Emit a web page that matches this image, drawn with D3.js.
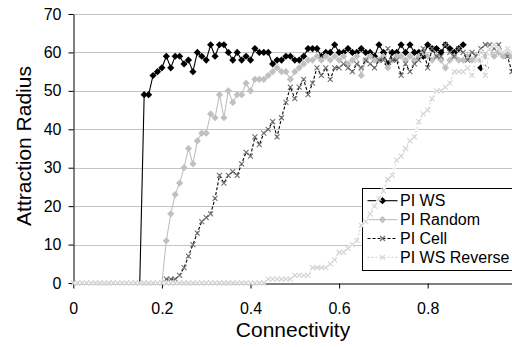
<!DOCTYPE html>
<html>
<head>
<meta charset="utf-8">
<script src="https://cdn.jsdelivr.net/npm/d3@7"></script>
<style>
  body { margin: 0; background: #fff; }
  text { font-family: "Liberation Sans", Arial, sans-serif; }
</style>
</head>
<body>
<svg id="chart" width="512" height="347"></svg>
<script>
// connectivity values (x categories)
const connectivity = [
  0.00, 0.01, 0.02, 0.03, 0.04, 0.05, 0.06, 0.07, 0.08, 0.09,
  0.10, 0.11, 0.12, 0.13, 0.14, 0.15, 0.16, 0.17, 0.18, 0.19,
  0.20, 0.21, 0.22, 0.23, 0.24, 0.25, 0.26, 0.27, 0.28, 0.29,
  0.30, 0.31, 0.32, 0.33, 0.34, 0.35, 0.36, 0.37, 0.38, 0.39,
  0.40, 0.41, 0.42, 0.43, 0.44, 0.45, 0.46, 0.47, 0.48, 0.49,
  0.50, 0.51, 0.52, 0.53, 0.54, 0.55, 0.56, 0.57, 0.58, 0.59,
  0.60, 0.61, 0.62, 0.63, 0.64, 0.65, 0.66, 0.67, 0.68, 0.69,
  0.70, 0.71, 0.72, 0.73, 0.74, 0.75, 0.76, 0.77, 0.78, 0.79,
  0.80, 0.81, 0.82, 0.83, 0.84, 0.85, 0.86, 0.87, 0.88, 0.89,
  0.90, 0.91, 0.92, 0.93, 0.94, 0.95, 0.96, 0.97, 0.98, 0.99,
  1.00
];

const _ = null;

const piWs = [
  _, _, _, _, _, _, _, _, _, _,
  _, _, _, _, _, 0, 49, 49, 54, 55,
  56, 59, 56, 59, 59, 57, 58, 55, 60, 59,
  58, 62, 59, 62, 62, 60, 58, 60, 58, 59,
  58, 61, 60, 60, 60, 57, 58, 58, 59, 59,
  58, 58, 59, 61, 61, 61, 59, 60, 60, 62,
  60, 60, 61, 60, 60, 61, 60, 60, 59, 62,
  60, 57, 60, 60, 62, 60, 62, 60, 60, 59,
  62, 61, 61, 60, 62, 61, 60, 61, 62, _,
  _, _, 56, 56, _, _, _, _, _, _,
  _
];

const piRandom = [
  _, _, _, _, _, _, _, _, _, _,
  _, _, _, _, _, _, _, _, _, _,
  0, 11, 18, 23, 26, 30, 35, 31, 37, 39,
  39, 44, 43, 49, 43, 50, 47, 49, 49, 52,
  50, 53, 53, 53, 54, 55, 56, 55, 55, 53,
  55, 56, 57, 58, 58, 59, 58, 59, 58, 59,
  58, 59, 57, 58, 59, 54, 58, 59, 58, 58,
  59, 56, 58, 59, 59, 58, 59, 58, 59, 60,
  59, 58, 59, 58, 56, 58, 59, 58, 58, 59,
  58, 59, 58, 59, 60, 59, 60, 59, 60, 59,
  60
];

const piCell = [
  _, _, _, _, _, _, _, _, _, _,
  _, _, _, _, _, _, _, _, _, _,
  0, 1, 1, 1, 2, 4, 7, 10, 13, 16,
  17, 18, 22, 28, 26, 28, 29, 28, 31, 34,
  33, 38, 36, 39, 40, 42, 38, 43, 47, 51,
  48, 51, 53, 49, 52, 56, 54, 56, 53, 56,
  56, 57, 56, 55, 57, 56, 58, 57, 56, 58,
  58, 61, 58, 58, 54, 57, 55, 57, 58, 61,
  56, 61, 59, 59, 62, 60, 59, 61, 60, 58,
  60, 59, 61, 62, 62, 61, 62, 60, 59, 55,
  59
];

const piWsReverse = [
  0, 0, 0, 0, 0, 0, 0, 0, 0, 0,
  0, 0, 0, 0, 0, 0, 0, 0, 0, 0,
  0, 0, 0, 0, 0, 0, 0, 0, 0, 0,
  0, 0, 0, 0, 0, 0, 0, 0, 0, 0,
  0, 0, 0, 0, 1, 1, 1, 1, 1, 1,
  2, 2, 2, 2, 4, 4, 4, 4, 5, 6,
  8, 8, 9, 10, 11, 15, 16, 18, 20, 22,
  24, 27, 28, 32, 33, 35, 37, 38, 42, 44,
  45, 48, 50, 50, 51, 52, 55, 55, 55, 56,
  54, 58, 60, 54, 61, 62, 61, 60, 61, 60,
  59
];

const seriesNames = ['PI WS', 'PI Random', 'PI Cell', 'PI WS Reverse'];
const yTicks = [0, 10, 20, 30, 40, 50, 60, 70];
const xTicks = [0, 0.2, 0.4, 0.6, 0.8];
const xTickLabels = ['0', '0.2', '0.4', '0.6', '0.8'];

const styles = [
  { values: piWs, line: '#000', dash: null, marker: 'diamond', mark: '#000', zeroMark: false },
  { values: piRandom, line: '#c0c0c0', dash: null, marker: 'diamond', mark: '#c0c0c0', zeroMark: false },
  { values: piCell, line: '#000', dash: '3,2', marker: 'cross', mark: '#707070', zeroMark: false },
  { values: piWsReverse, line: '#d4d4d4', dash: '2,2', marker: 'cross', mark: '#d4d4d4', zeroMark: true, halo: true }
];

const svg = d3.select('#chart');

const x = d3.scaleLinear().domain([0, 1]).range([73.3, 516.3]);
const y = d3.scaleLinear().domain([0, 70]).range([283, 14]);

// gridlines
svg.append('g')
  .selectAll('line')
  .data(yTicks.filter(d => d > 0))
  .join('line')
  .attr('x1', x(0)).attr('x2', 512)
  .attr('y1', d => Math.round(y(d)) + 0.5).attr('y2', d => Math.round(y(d)) + 0.5)
  .attr('stroke', '#c4c4c4')
  .attr('stroke-width', 1);

// axes
const yAxis = svg.append('g')
  .attr('transform', 'translate(73.5,0)')
  .call(d3.axisLeft(y).tickValues(yTicks).tickSize(5).tickSizeOuter(0).tickPadding(7));

const xAxis = svg.append('g')
  .attr('transform', 'translate(0,283.5)')
  .call(d3.axisBottom(x).tickValues(xTicks).tickFormat((d, i) => xTickLabels[i])
    .tickSize(5).tickSizeOuter(0).tickPadding(14));

[yAxis, xAxis].forEach(a => {
  a.selectAll('text').attr('font-size', 16).attr('font-family', '"Liberation Sans", Arial, sans-serif').attr('fill', '#000');
  a.selectAll('path, line').attr('stroke', '#000');
});

// legend box (under the series)
const legend = svg.append('g').attr('transform', 'translate(362.5,188.5)');
legend.append('rect')
  .attr('width', 160).attr('height', 82)
  .attr('fill', '#fff').attr('stroke', '#000');

function drawMarker(sel, type, color) {
  if (type === 'diamond') {
    sel.append('path').attr('d', 'M0,-3.6L3.6,0L0,3.6L-3.6,0Z').attr('fill', color);
  } else {
    sel.append('path').attr('d', 'M-2.5,-2.5L2.5,2.5M-2.5,2.5L2.5,-2.5')
      .attr('stroke', color).attr('stroke-width', 1.1).attr('fill', 'none');
  }
}

const line = d3.line()
  .defined(d => d[1] !== null)
  .x(d => x(d[0]))
  .y(d => y(d[1]));

styles.forEach(s => {
  const pts = connectivity.map((c, i) => [c, s.values[i]]);
  const g = svg.append('g');
  if (s.halo) {
    g.append('path').datum(pts).attr('d', line)
      .attr('fill', 'none').attr('stroke', '#fff').attr('stroke-width', 3);
  }
  g.append('path').datum(pts).attr('d', line)
    .attr('fill', 'none').attr('stroke', s.line).attr('stroke-width', 1.1)
    .attr('stroke-dasharray', s.dash);
  g.selectAll('g.m')
    .data(pts.filter(d => d[1] !== null && (s.zeroMark || d[1] > 0)))
    .join('g')
    .attr('class', 'm')
    .attr('transform', d => `translate(${x(d[0])},${y(d[1])})`)
    .each(function () { drawMarker(d3.select(this), s.marker, s.mark); });
});

// legend entries
seriesNames.forEach((name, i) => {
  const s = styles[i];
  const row = legend.append('g').attr('transform', `translate(0,${12.2 + i * 18.9})`);
  row.append('line').attr('x1', 5).attr('x2', 35).attr('y1', 0).attr('y2', 0)
    .attr('stroke', s.line).attr('stroke-width', 1.1).attr('stroke-dasharray', s.dash);
  drawMarker(row.append('g').attr('transform', 'translate(20,0)'), s.marker, s.mark);
  row.append('text').attr('x', 37.5).attr('dy', '0.36em')
    .attr('font-size', 16).text(name);
});

// axis titles
svg.append('text')
  .attr('transform', 'translate(31,146) rotate(-90)')
  .attr('text-anchor', 'middle')
  .attr('font-size', 21)
  .text('Attraction Radius');

svg.append('text')
  .attr('x', 293).attr('y', 337)
  .attr('text-anchor', 'middle')
  .attr('font-size', 21)
  .text('Connectivity');
</script>
</body>
</html>
